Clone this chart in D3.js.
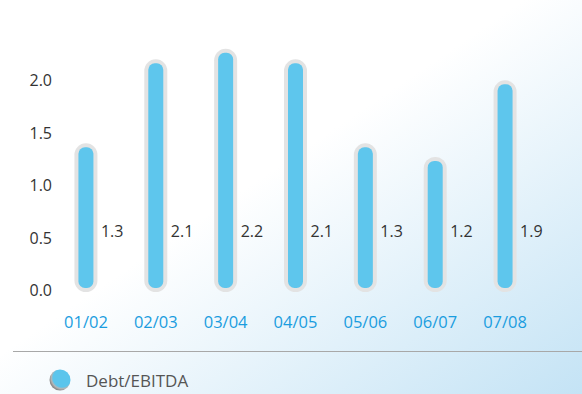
<!DOCTYPE html>
<html>
<head>
<meta charset="utf-8">
<script src="https://cdn.jsdelivr.net/npm/d3@7"></script>
<style>
  body { margin: 0; }
  svg { display: block; font-family: "Open Sans", "Noto Sans", sans-serif; }
</style>
</head>
<body>
<div id="chart"></div>
<script>
// Chart data
const years = ['01/02', '02/03', '03/04', '04/05', '05/06', '06/07', '07/08'];
const ratio = [1.34, 2.14, 2.24, 2.14, 1.34, 1.21, 1.94];
const ratioLabels = ['1.3', '2.1', '2.2', '2.1', '1.3', '1.2', '1.9'];
const yTicks = [0, 0.5, 1, 1.5, 2];
const seriesName = 'Debt/EBITDA';

const width = 582, height = 394;

const svg = d3.select('#chart').append('svg')
    .attr('width', width)
    .attr('height', height);

const defs = svg.append('defs');

// Background: white top-left fading to light blue bottom-right
const bg = defs.append('linearGradient')
    .attr('id', 'bg')
    .attr('x1', '0').attr('y1', '0')
    .attr('x2', '1').attr('y2', '1');
bg.append('stop').attr('offset', '0.45').attr('stop-color', '#ffffff');
bg.append('stop').attr('offset', '1').attr('stop-color', '#c4e3f5');

const dot = defs.append('radialGradient')
    .attr('id', 'dot')
    .attr('cx', '0.6').attr('cy', '0.4').attr('r', '0.6');
dot.append('stop').attr('offset', '0.72').attr('stop-color', '#5bc5ec');
dot.append('stop').attr('offset', '0.86').attr('stop-color', '#b5b5b5');
dot.append('stop').attr('offset', '1').attr('stop-color', '#8a8a8a');

svg.append('rect')
    .attr('width', width)
    .attr('height', height)
    .attr('fill', 'url(#bg)');

// Scales
const x = d3.scaleBand()
    .domain(years)
    .range([51, 540])
    .padding(0);

const y = d3.scaleLinear()
    .domain([0, 2])
    .range([288, 78]);

// Y axis labels
const yAxis = svg.append('g')
    .attr('transform', 'translate(52,0)')
    .call(d3.axisLeft(y).tickValues(yTicks).tickFormat(d3.format('.1f')).tickSize(0).tickPadding(0));
yAxis.select('.domain').remove();
yAxis.selectAll('text')
    .attr('font-size', 16)
    .attr('fill', '#333')
    .attr('font-family', '"Open Sans", sans-serif')
    .attr('dy', '0.35em')
    .attr('y', 2);

// Bars: gray halo + blue capsule
const barW = 15, ring = 4;
const bars = svg.append('g').selectAll('g')
    .data(years.map((d, i) => ({ year: d, value: ratio[i], label: ratioLabels[i] })))
    .join('g')
    .attr('transform', d => `translate(${x(d.year) + x.bandwidth() / 2},0)`);

bars.append('rect')
    .attr('x', -barW / 2 - ring)
    .attr('y', d => y(d.value) - ring)
    .attr('width', barW + ring * 2)
    .attr('height', d => y(0) - y(d.value) + ring * 2)
    .attr('rx', (barW + ring * 2) / 2)
    .attr('fill', '#e3e3e3');

bars.append('rect')
    .attr('x', -barW / 2)
    .attr('y', d => y(d.value))
    .attr('width', barW)
    .attr('height', d => y(0) - y(d.value))
    .attr('rx', barW / 2 - 1)
    .attr('fill', '#5ec6ed');

bars.append('text')
    .attr('x', 15)
    .attr('y', y(0.54))
    .attr('dy', '0.35em')
    .attr('font-size', 16)
    .attr('fill', '#333')
    .text(d => d.label);

// X axis labels
const xAxis = svg.append('g')
    .attr('transform', 'translate(0,322)')
    .call(d3.axisBottom(x).tickSize(0).tickPadding(0));
xAxis.select('.domain').remove();
xAxis.selectAll('text')
    .attr('font-size', 16.5)
    .attr('fill', '#1a9ddf')
    .attr('font-family', '"Open Sans", sans-serif')
    .attr('dy', '0.35em')
    .attr('y', 0);

// Separator line
svg.append('line')
    .attr('x1', 13).attr('x2', width)
    .attr('y1', 351.5).attr('y2', 351.5)
    .attr('stroke', '#a8a8a8')
    .attr('stroke-width', 1.2);

// Legend
svg.append('circle')
    .attr('cx', 60).attr('cy', 380)
    .attr('r', 10.5)
    .attr('fill', 'url(#dot)');

svg.append('text')
    .attr('x', 86).attr('y', 381)
    .attr('dy', '0.35em')
    .attr('font-size', 17)
    .attr('fill', '#555')
    .text(seriesName);
</script>
</body>
</html>
